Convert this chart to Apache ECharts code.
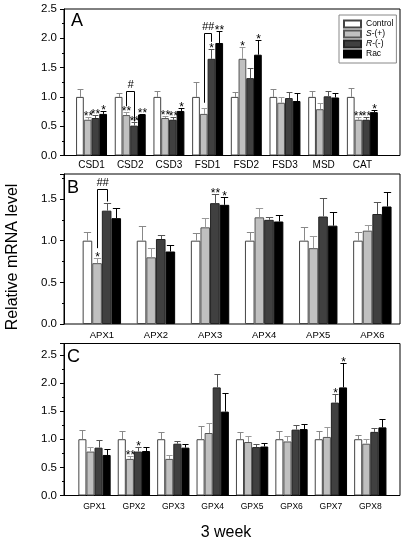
<!DOCTYPE html>
<html><head><meta charset="utf-8">
<script src="https://cdn.jsdelivr.net/npm/echarts@6/dist/echarts.min.js"></script>
<style>html,body{margin:0;padding:0;background:#fff}#c{width:406px;height:542px}</style>
</head><body><div id="c"></div>
<script>
// ---------- DATA ----------
const seriesNames = ['Control', 'S-(+)', 'R-(-)', 'Rac'];

const catsA = ['CSD1','CSD2','CSD3','FSD1','FSD2','FSD3','MSD','CAT'];
const ctrlA = [1,1,1,1,1,1,1,1];
const sA    = [0.61,0.69,0.64,0.71,1.65,0.90,0.79,0.61];
const rA    = [0.64,0.51,0.61,1.65,1.32,0.98,1.01,0.61];
const racA  = [0.71,0.70,0.76,1.92,1.72,0.93,0.99,0.74];
const ctrlErrA = [0.13,0.07,0.10,0.25,0.08,0.14,0.10,0.16];
const sErrA    = [0.05,0.05,0.04,0.10,0.21,0.09,0.10,0.05];
const rErrA    = [0.05,0.06,0.04,0.16,0.18,0.11,0.09,0.05];
const racErrA  = [0.05,0.01,0.05,0.21,0.25,0.13,0.08,0.04];
const ctrlStarA = ['','','','','','','',''];
const sStarA    = ['**','**','**','','*','','','**'];
const rStarA    = ['**','**','**','*','','','','**'];
const racStarA  = ['*','**','*','**','*','','','*'];
const bracketA = [[1,1,2,0.84,0.58,1.10],[3,1,2,0.90,1.94,2.09]];
const bracketTextA = ['#','##'];

const catsB = ['APX1','APX2','APX3','APX4','APX5','APX6'];
const ctrlB = [1,1,1,1,1,1];
const sB    = [0.73,0.80,1.16,1.28,0.91,1.12];
const rB    = [1.36,1.02,1.45,1.25,1.29,1.32];
const racB  = [1.27,0.87,1.43,1.23,1.18,1.41];
const ctrlErrB = [0.10,0.18,0.09,0.11,0.16,0.10];
const sErrB    = [0.06,0.11,0.11,0.11,0.15,0.07];
const rErrB    = [0.09,0.05,0.11,0.04,0.22,0.14];
const racErrB  = [0.12,0.08,0.10,0.08,0.17,0.18];
const ctrlStarB = ['','','','','',''];
const sStarB    = ['*','','','','',''];
const rStarB    = ['','','**','','',''];
const racStarB  = ['','','*','','',''];
const bracketB = [[0,1,2,0.91,1.47,1.62]];
const bracketTextB = ['##'];

const catsC = ['GPX1','GPX2','GPX3','GPX4','GPX5','GPX6','GPX7','GPX8'];
const ctrlC = [1,1,1,1,1,1,1,1];
const sC    = [0.78,0.65,0.65,1.11,0.95,0.96,1.04,0.92];
const rC    = [0.85,0.78,0.92,1.92,0.86,1.17,1.65,1.13];
const racC  = [0.72,0.79,0.85,1.49,0.87,1.18,1.92,1.21];
const ctrlErrC = [0.17,0.15,0.13,0.23,0.12,0.15,0.15,0.07];
const sErrC    = [0.08,0.05,0.07,0.17,0.10,0.09,0.17,0.08];
const rErrC    = [0.14,0.09,0.05,0.24,0.05,0.09,0.15,0.07];
const racErrC  = [0.11,0.07,0.06,0.33,0.06,0.09,0.43,0.15];
const ctrlStarC = ['','','','','','','',''];
const sStarC    = ['','**','','','','','',''];
const rStarC    = ['','*','','','','','*',''];
const racStarC  = ['','','','','','','*',''];

const yTicksA = {min:0, max:2.5, interval:0.5};
const yTicksB = {min:0, max:1.8, interval:0.5};
const yTicksC = {min:0, max:2.7, interval:0.5};

// ---------- STYLE ----------
const FONT = 'Arial, "Liberation Sans", sans-serif';
const fills = ['#ffffff', '#c0c0c0', '#404040', '#000000'];
const borders = ['#444444', '#555555', '#222222', '#000000'];
const errColors = ['#888888', '#9a9a9a', '#555555', '#000000'];

const panels = [
  {cats:catsA, vals:[ctrlA,sA,rA,racA], errs:[ctrlErrA,sErrA,rErrA,racErrA], stars:[ctrlStarA,sStarA,rStarA,racStarA],
   br:bracketA, brText:bracketTextA, ticks:yTicksA,
   frame:{left:64, right:6, top:9, height:146.5}, bars:{left:72.2, right:24.3}, gap:0.20, xFont:10, xMargin:5},
  {cats:catsB, vals:[ctrlB,sB,rB,racB], errs:[ctrlErrB,sErrB,rErrB,racErrB], stars:[ctrlStarB,sStarB,rStarB,racStarB],
   br:bracketB, brText:bracketTextB, ticks:yTicksB,
   frame:{left:64, right:6, top:174, height:150}, bars:{left:74.8, right:6.6}, gap:0.29, xFont:9.5, xMargin:6},
  {cats:catsC, vals:[ctrlC,sC,rC,racC], errs:[ctrlErrC,sErrC,rErrC,racErrC], stars:[ctrlStarC,sStarC,rStarC,racStarC],
   br:[], brText:[], ticks:yTicksC,
   frame:{left:64, right:6, top:343.5, height:152}, bars:{left:74.8, right:16}, gap:0.18, xFont:8.5, xMargin:7}
];

const grid = [], xAxis = [], yAxis = [], series = [];
panels.forEach((p, k) => {
  const fi = grid.length;
  grid.push({left:p.frame.left, right:p.frame.right, top:p.frame.top, height:p.frame.height,
             show:true, borderColor:'#000', borderWidth:1, backgroundColor:'transparent'});
  const bi = grid.length;
  grid.push({left:p.bars.left, right:p.bars.right, top:p.frame.top, height:p.frame.height});
  xAxis.push({gridIndex:fi, type:'value', min:0, max:1, show:false});
  yAxis.push({gridIndex:fi, type:'value', min:p.ticks.min, max:p.ticks.max, interval:p.ticks.interval,
    axisLine:{show:true, lineStyle:{color:'#000', width:1}},
    axisTick:{show:true, inside:false, length:4, lineStyle:{color:'#000'}},
    minorTick:{show:true, splitNumber:2, length:2, lineStyle:{color:'#000'}},
    splitLine:{show:false},
    axisLabel:{fontFamily:FONT, fontSize:11.5, color:'#000', margin:7,
      formatter:v => v.toFixed(1), showMaxLabel: p.ticks.max % 0.5 === 0 ? true : false}});
  xAxis.push({gridIndex:bi, type:'category', data:p.cats, boundaryGap:true,
    axisLine:{show:false}, axisTick:{show:false},
    axisLabel:{fontFamily:FONT, fontSize:p.xFont, color:'#000', margin:p.xMargin, interval:0}});
  yAxis.push({gridIndex:bi, type:'value', min:p.ticks.min, max:p.ticks.max, show:false, splitLine:{show:false}});
  const xi = bi, yi = bi;
  p.vals.forEach((arr, si) => {
    series.push({type:'bar', name:seriesNames[si], xAxisIndex:xi, yAxisIndex:yi, data:arr,
      barGap:'0%', barCategoryGap:(p.gap*100)+'%',
      itemStyle:{color:fills[si], borderColor:borders[si], borderWidth:1}, silent:true});
  });
  // error bars + stars
  const data = [];
  p.vals.forEach((arr, si) => arr.forEach((v, i) => data.push([i, si, v, p.errs[si][i]])));
  const gap = p.gap, stars = p.stars;
  series.push({type:'custom', xAxisIndex:xi, yAxisIndex:yi, data, silent:true, z:5,
    encode:{x:0, y:2},
    renderItem(params, api){
      const i = api.value(0), si = api.value(1), v = api.value(2), e = api.value(3);
      const band = api.size([1,0])[0];
      const gw = band*(1-gap), bw = gw/4;
      const c = api.coord([i, v]), t = api.coord([i, v+e]);
      const x = Math.round(c[0]-gw/2+(si+0.5)*bw)+0.5;
      const cw = bw*0.38;
      const col = errColors[si];
      const ty = Math.round(t[1])+0.5;
      const ch = [
        {type:'line', shape:{x1:x, y1:c[1], x2:x, y2:ty}, style:{stroke:col, lineWidth:1}},
        {type:'line', shape:{x1:x-cw, y1:ty, x2:x+cw, y2:ty}, style:{stroke:col, lineWidth:1}}
      ];
      const s = stars[si][i];
      if (s) ch.push({type:'text', x:x, y:ty+5, style:{text:s, fill:'#000', font:'12px '+FONT, align:'center', verticalAlign:'bottom'}});
      return {type:'group', children:ch};
    }});
  if (p.br.length) {
    const brText = p.brText;
    series.push({type:'custom', xAxisIndex:xi, yAxisIndex:yi, data:p.br, silent:true, z:6,
      encode:{x:0, y:5},
      renderItem(params, api){
        const i = api.value(0), a = api.value(1), b = api.value(2);
        const l1 = api.value(3), l2 = api.value(4), top = api.value(5);
        const band = api.size([1,0])[0];
        const gw = band*(1-gap), bw = gw/4;
        const c0 = api.coord([i, top]);
        const xa = Math.round(c0[0]-gw/2+(a+0.5)*bw)+0.5;
        const xb = Math.round(c0[0]-gw/2+(b+0.5)*bw)+0.5;
        const yt = Math.round(c0[1])+0.5;
        const ya = api.coord([i, l1])[1], yb = api.coord([i, l2])[1];
        return {type:'group', children:[
          {type:'polyline', shape:{points:[[xa,ya],[xa,yt],[xb,yt],[xb,yb]]}, style:{stroke:'#000', lineWidth:1, fill:null}},
          {type:'text', x:(xa+xb)/2, y:yt-1, style:{text:brText[params.dataIndex], fill:'#000', font:'italic 11px '+FONT, align:'center', verticalAlign:'bottom'}}
        ]};
      }});
  }
});

const option = {
  animation:false,
  backgroundColor:'#fff',
  grid, xAxis, yAxis, series,
  legend:{
    data:seriesNames, orient:'vertical', left:339, top:15,
    backgroundColor:'#fff', borderColor:'#888', borderWidth:1, padding:[4,3,4,4],
    itemWidth:17, itemHeight:7, itemGap:0, icon:'rect',
    textStyle:{fontFamily:FONT, fontSize:8.5, color:'#000', lineHeight:10,
      rich:{i:{fontStyle:'italic', fontFamily:FONT, fontSize:8.5, color:'#000'}}},
    formatter:n => n==='S-(+)' ? '{i|S}-(+)' : (n==='R-(-)' ? '{i|R}-(-)' : n),
    selectedMode:false
  },
  graphic:[
    {type:'text', left:71, top:12, style:{text:'A', font:'18px '+FONT, fill:'#000'}},
    {type:'text', left:67, top:179, style:{text:'B', font:'18px '+FONT, fill:'#000'}},
    {type:'text', left:67, top:348, style:{text:'C', font:'18px '+FONT, fill:'#000'}},
    {type:'text', x:13, y:257, rotation:Math.PI/2, style:{text:'Relative mRNA level', font:'16px '+FONT, fill:'#000', align:'center', verticalAlign:'middle'}},
    {type:'text', x:226, y:533, style:{text:'3 week', font:'16px '+FONT, fill:'#000', align:'center', verticalAlign:'middle'}}
  ]
};
const chart = echarts.init(document.getElementById('c'), null, {renderer:'canvas'});
chart.setOption(option);
</script>
</body></html>
